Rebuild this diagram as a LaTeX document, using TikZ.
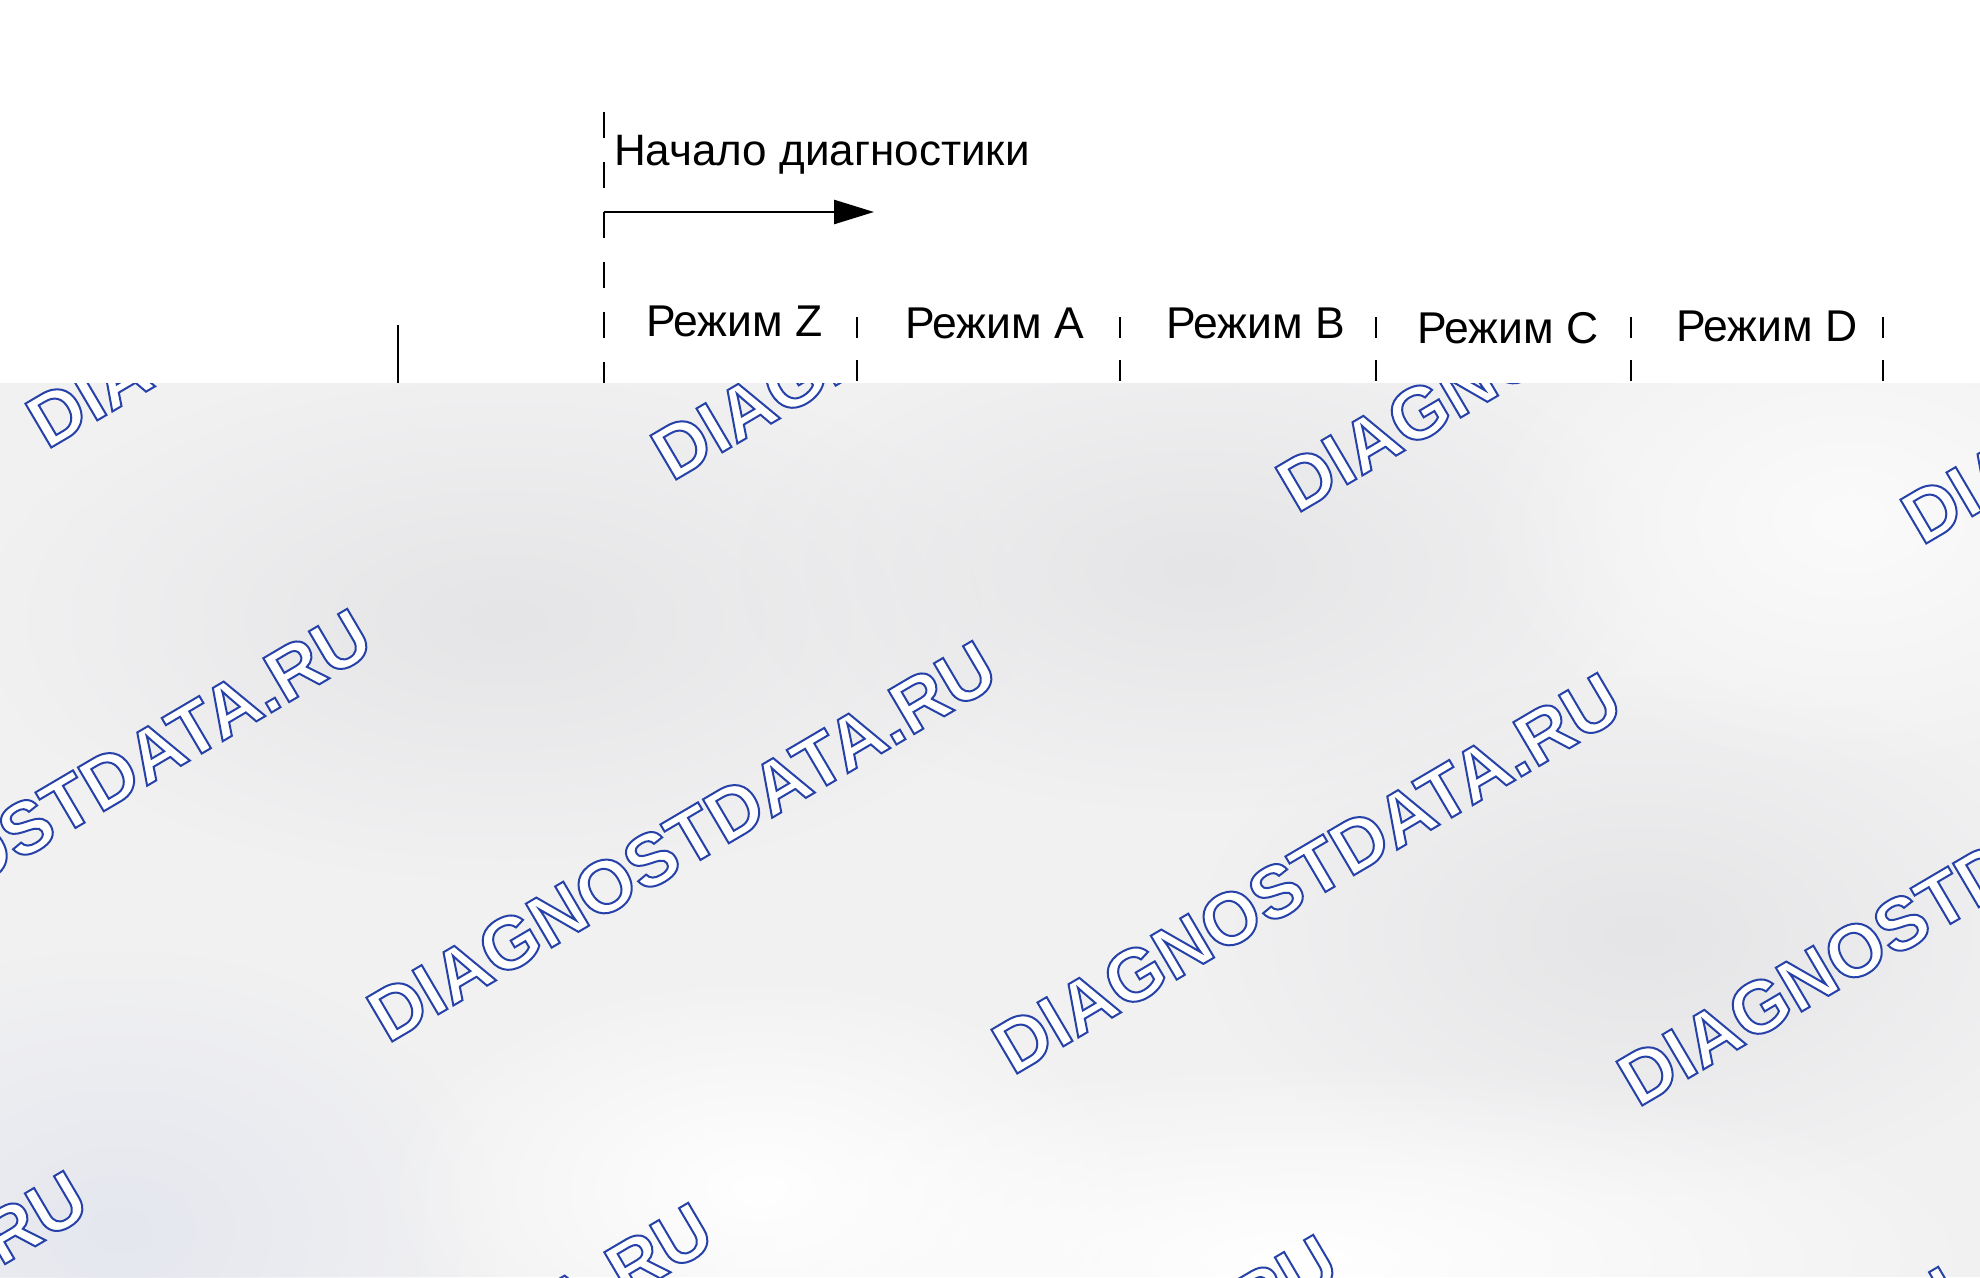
\documentclass[tikz,border=0pt]{standalone}
\usepackage{fontspec}
\setmainfont{Liberation Sans}
\usetikzlibrary{arrows.meta,fadings}
\definecolor{wmblue}{RGB}{38,66,168}
\definecolor{ovlgray}{RGB}{241,241,242}
\definecolor{ovldark}{RGB}{229,229,231}
\definecolor{ovlblue}{RGB}{229,231,239}
\tikzfading[name=softdisc, inner color=transparent!0, outer color=transparent!100]
\newcommand{\wmtext}{{\color{white}\special{pdf:literal direct 0.149 0.259 0.659 RG 2 Tr 2.0 w}DIAGNOSTDATA.RU\special{pdf:literal direct 0 Tr}}}
\begin{document}
\begin{tikzpicture}[x=1pt,y=-1pt,
  every node/.style={inner sep=0pt, outer sep=0pt},
  lbl/.style={anchor=base west, font=\fontsize{44.5}{52}\selectfont},
  titlelbl/.style={anchor=base west, font=\fontsize{44}{52}\selectfont},
  timeline/.style={line width=2.6pt, dash pattern=on 26pt off 24pt},
  modesep/.style={line width=2.6pt, dash pattern=on 21pt off 22pt},
  solidline/.style={line width=2.6pt},
  startarrow/.style={line width=2.6pt, -{Triangle[length=40pt,width=24pt]}},
  wm/.style={anchor=base west, rotate=30.5, font=\fontsize{74}{80}\selectfont\bfseries},
  blob/.style={path fading=softdisc}
]
\useasboundingbox (0,0) rectangle (1980,1277);
\fill[white] (0,0) rectangle (1980,1277);

% timeline start
\coordinate (tlTop) at (604,112);
\coordinate (tlBot) at (604,383);
\draw[timeline] (tlTop) -- (tlBot);
\node[titlelbl] (start) at (614,165) {Начало диагностики};
\coordinate (arrS) at (604,212);
\coordinate (arrE) at (874,212);
\draw[startarrow] (arrS) -- (arrE);

% modes
\node[lbl] (mZ) at (646,336) {Режим Z};
\node[lbl] (mA) at (905,338) {Режим A};
\node[lbl] (mB) at (1166,338) {Режим B};
\node[lbl] (mC) at (1417,343) {Режим C};
\node[lbl] (mD) at (1676,341) {Режим D};
\foreach \x/\n in {857/sa,1120/sb,1376/sc,1631/sd,1883/se}{
  \coordinate (\n t) at (\x,317);
  \coordinate (\n b) at (\x,383);
  \draw[modesep] (\n t) -- (\n b);
}
\coordinate (solT) at (398,325);
\coordinate (solB) at (398,383);
\draw[solidline] (solT) -- (solB);

% overlay
\fill[ovlgray] (0,383) rectangle (1980,1277);
\begin{scope}
\clip (0,383) rectangle (1980,1277);
\fill[ovldark,blob] (505,620) ellipse [x radius=520, y radius=260];
\fill[ovldark,blob] (1200,570) ellipse [x radius=460, y radius=240];
\fill[ovldark,blob] (1640,935) ellipse [x radius=440, y radius=260];
\fill[ovlblue,blob] (120,1230) ellipse [x radius=380, y radius=280];
\fill[white,blob] (760,1190) ellipse [x radius=380, y radius=220];
\fill[white,blob] (1300,1260) ellipse [x radius=700, y radius=200];
\fill[white!70!ovlgray,blob] (1850,520) ellipse [x radius=380, y radius=260];
\foreach \i in {-2,...,3}{
  \foreach \j in {-1,...,2}{
    \node[wm] (wm\i\j) at ({388+625*\i+341*\j},{1044+32*\i+594*\j}) {\wmtext};
  }
}
\end{scope}
\end{tikzpicture}
\end{document}
